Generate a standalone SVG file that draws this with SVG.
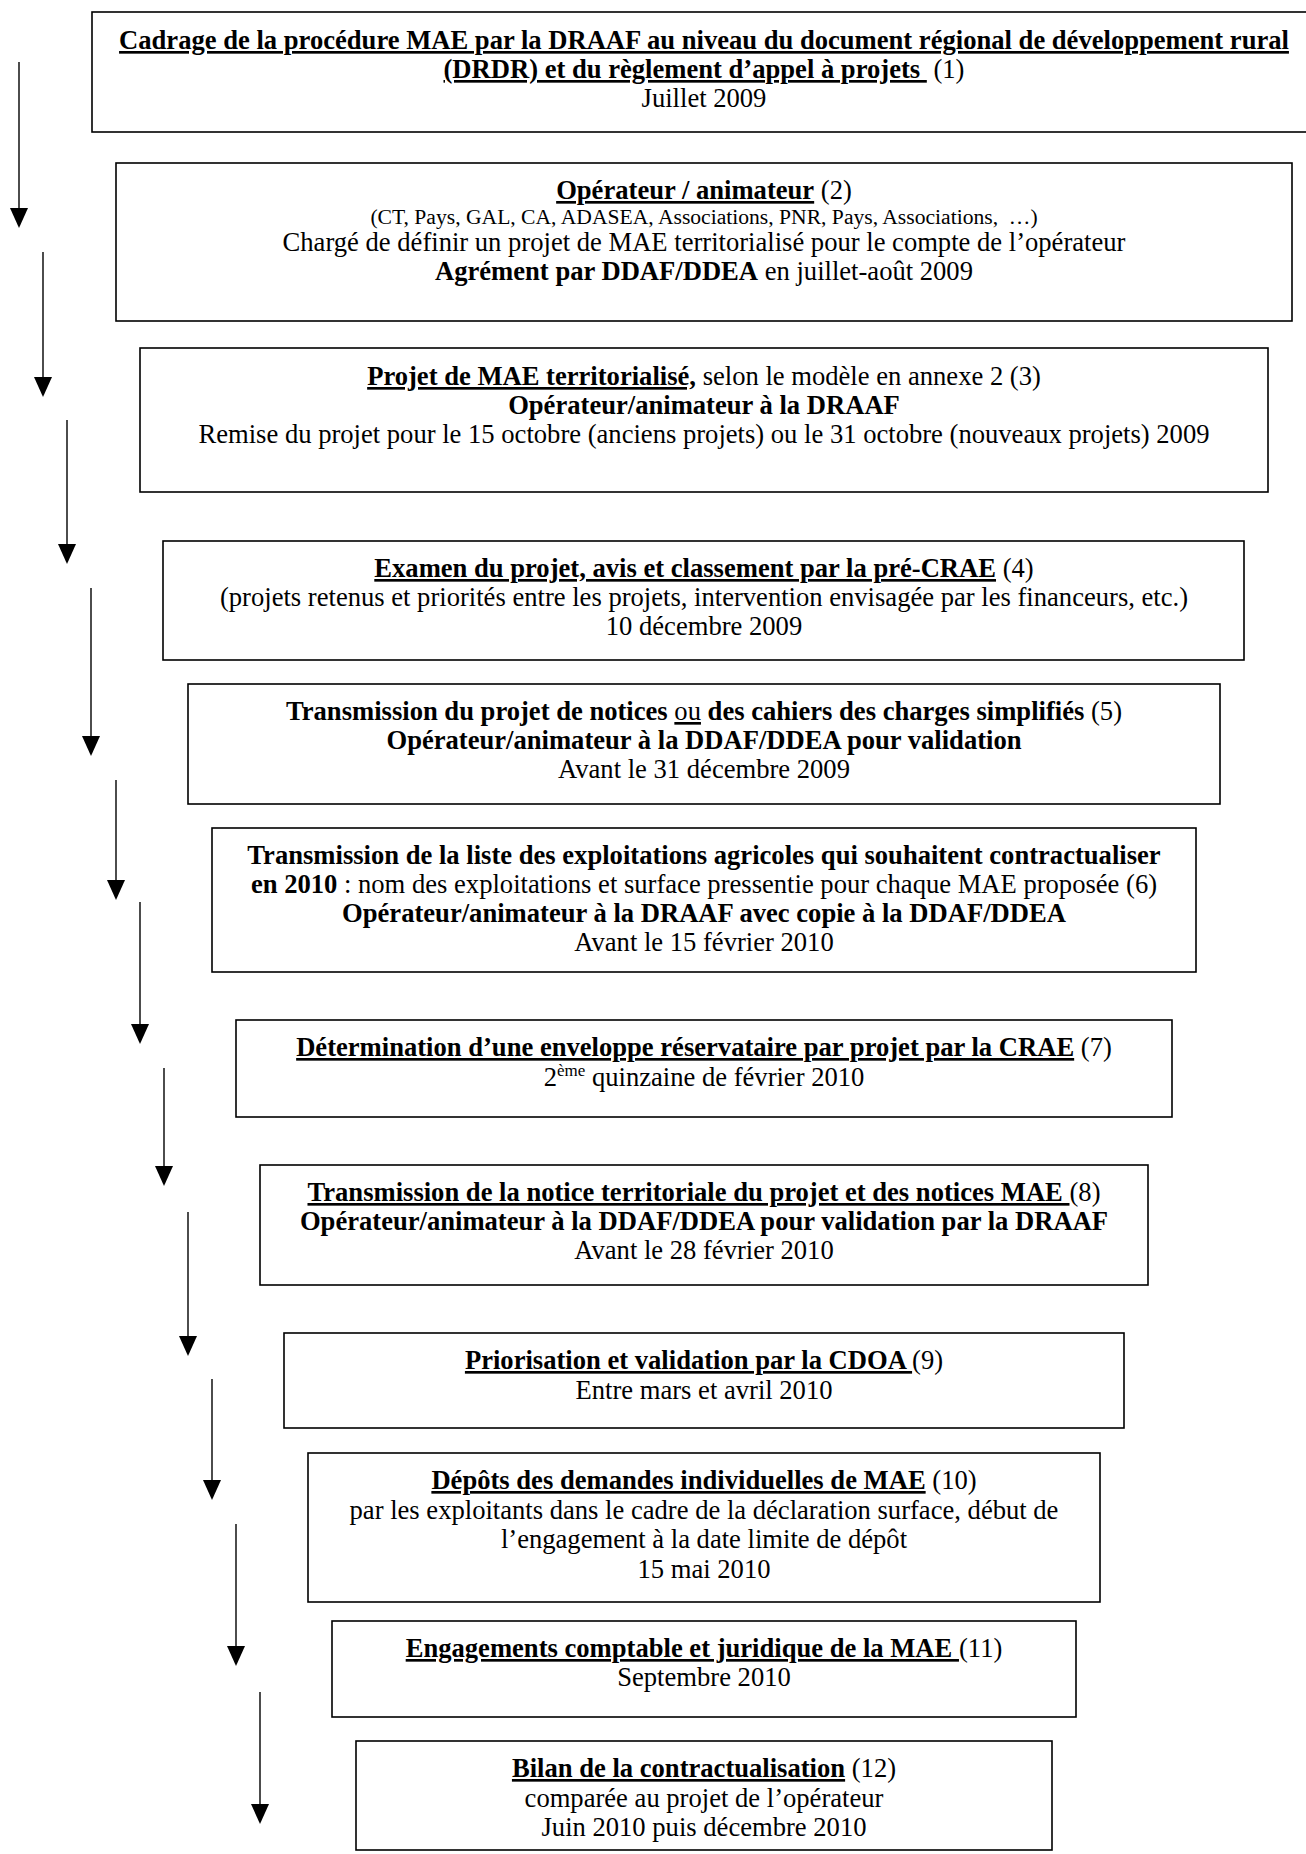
<svg xmlns="http://www.w3.org/2000/svg" width="1306" height="1854" viewBox="0 0 1306 1854">
<defs>
<style>
rect.box{fill:#fff;stroke:#000;stroke-width:1.6}
line.arr{stroke:#000;stroke-width:1.4}
path.head{fill:#000}
text{font-family:"Liberation Serif","Times New Roman",serif;font-size:26.6px;fill:#000;text-anchor:middle}
.b{font-weight:bold}
.u{text-decoration:underline}
.s{font-size:21.6px}
</style>
</defs>
<rect width="1306" height="1854" fill="#fff"/>
<g id="connectors">
<line class="arr" x1="19" y1="62" x2="19" y2="208"/>
<path class="head" d="M10,208 L28,208 L19,228 Z"/>
<line class="arr" x1="43" y1="252" x2="43" y2="377"/>
<path class="head" d="M34,377 L52,377 L43,397 Z"/>
<line class="arr" x1="67" y1="420" x2="67" y2="544"/>
<path class="head" d="M58,544 L76,544 L67,564 Z"/>
<line class="arr" x1="91" y1="588" x2="91" y2="736"/>
<path class="head" d="M82,736 L100,736 L91,756 Z"/>
<line class="arr" x1="116" y1="780" x2="116" y2="880"/>
<path class="head" d="M107,880 L125,880 L116,900 Z"/>
<line class="arr" x1="140" y1="902" x2="140" y2="1024"/>
<path class="head" d="M131,1024 L149,1024 L140,1044 Z"/>
<line class="arr" x1="164" y1="1068" x2="164" y2="1166"/>
<path class="head" d="M155,1166 L173,1166 L164,1186 Z"/>
<line class="arr" x1="188" y1="1212" x2="188" y2="1336"/>
<path class="head" d="M179,1336 L197,1336 L188,1356 Z"/>
<line class="arr" x1="212" y1="1379" x2="212" y2="1480"/>
<path class="head" d="M203,1480 L221,1480 L212,1500 Z"/>
<line class="arr" x1="236" y1="1524" x2="236" y2="1646"/>
<path class="head" d="M227,1646 L245,1646 L236,1666 Z"/>
<line class="arr" x1="260" y1="1692" x2="260" y2="1804"/>
<path class="head" d="M251,1804 L269,1804 L260,1824 Z"/>
</g>
<g id="n1">
<rect class="box" x="92" y="12" width="1224" height="120"/>
<text x="704" y="49"><tspan class="b u">Cadrage de la procédure MAE par la DRAAF au niveau du document régional de développement rural</tspan></text>
<text x="704" y="78" xml:space="preserve"><tspan class="b u">(DRDR) et du règlement d’appel à projets </tspan> (1)</text>
<text x="704" y="107">Juillet 2009</text>
</g>
<g id="n2">
<rect class="box" x="116" y="163" width="1176" height="158"/>
<text x="704" y="199"><tspan class="b u">Opérateur / animateur</tspan> (2)</text>
<text class="s" x="704" y="224" xml:space="preserve">(CT, Pays, GAL, CA, ADASEA, Associations, PNR, Pays, Associations,  …)</text>
<text x="704" y="251">Chargé de définir un projet de MAE territorialisé pour le compte de l’opérateur</text>
<text x="704" y="280"><tspan class="b">Agrément par DDAF/DDEA</tspan> en juillet-août 2009</text>
</g>
<g id="n3">
<rect class="box" x="140" y="348" width="1128" height="144"/>
<text x="704" y="385"><tspan class="b u">Projet de MAE territorialisé,</tspan> selon le modèle en annexe 2 (3)</text>
<text class="b" x="704" y="414">Opérateur/animateur à la DRAAF</text>
<text x="704" y="443">Remise du projet pour le 15 octobre (anciens projets) ou le 31 octobre (nouveaux projets) 2009</text>
</g>
<g id="n4">
<rect class="box" x="163" y="541" width="1081" height="119"/>
<text x="704" y="577"><tspan class="b u">Examen du projet, avis et classement par la pré-CRAE</tspan> (4)</text>
<text x="704" y="606">(projets retenus et priorités entre les projets, intervention envisagée par les financeurs, etc.)</text>
<text x="704" y="635">10 décembre 2009</text>
</g>
<g id="n5">
<rect class="box" x="188" y="684" width="1032" height="120"/>
<text x="704" y="720"><tspan class="b">Transmission du projet de notices </tspan><tspan class="u">ou</tspan><tspan class="b"> des cahiers des charges simplifiés</tspan> (5)</text>
<text class="b" x="704" y="749">Opérateur/animateur à la DDAF/DDEA pour validation</text>
<text x="704" y="778">Avant le 31 décembre 2009</text>
</g>
<g id="n6">
<rect class="box" x="212" y="828" width="984" height="144"/>
<text class="b" x="704" y="864">Transmission de la liste des exploitations agricoles qui souhaitent contractualiser</text>
<text x="704" y="893"><tspan class="b">en 2010</tspan> : nom des exploitations et surface pressentie pour chaque MAE proposée (6)</text>
<text class="b" x="704" y="922">Opérateur/animateur à la DRAAF avec copie à la DDAF/DDEA</text>
<text x="704" y="951">Avant le 15 février 2010</text>
</g>
<g id="n7">
<rect class="box" x="236" y="1020" width="936" height="97"/>
<text x="704" y="1056"><tspan class="b u">Détermination d’une enveloppe réservataire par projet par la CRAE</tspan> (7)</text>
<text x="704" y="1086">2<tspan font-size="17" dy="-10">ème</tspan><tspan dy="10"> quinzaine de février 2010</tspan></text>
</g>
<g id="n8">
<rect class="box" x="260" y="1165" width="888" height="120"/>
<text x="704" y="1201"><tspan class="b u">Transmission de la notice territoriale du projet et des notices MAE </tspan>(8)</text>
<text class="b" x="704" y="1230">Opérateur/animateur à la DDAF/DDEA pour validation par la DRAAF</text>
<text x="704" y="1259">Avant le 28 février 2010</text>
</g>
<g id="n9">
<rect class="box" x="284" y="1333" width="840" height="95"/>
<text x="704" y="1369"><tspan class="b u">Priorisation et validation par la CDOA </tspan>(9)</text>
<text x="704" y="1399">Entre mars et avril 2010</text>
</g>
<g id="n10">
<rect class="box" x="308" y="1453" width="792" height="149"/>
<text x="704" y="1489"><tspan class="b u">Dépôts des demandes individuelles de MAE</tspan> (10)</text>
<text x="704" y="1519">par les exploitants dans le cadre de la déclaration surface, début de</text>
<text x="704" y="1548">l’engagement à la date limite de dépôt</text>
<text x="704" y="1578">15 mai 2010</text>
</g>
<g id="n11">
<rect class="box" x="332" y="1621" width="744" height="96"/>
<text x="704" y="1657"><tspan class="b u">Engagements comptable et juridique de la MAE </tspan>(11)</text>
<text x="704" y="1686">Septembre 2010</text>
</g>
<g id="n12">
<rect class="box" x="356" y="1741" width="696" height="109"/>
<text x="704" y="1777"><tspan class="b u">Bilan de la contractualisation</tspan> (12)</text>
<text x="704" y="1807">comparée au projet de l’opérateur</text>
<text x="704" y="1836">Juin 2010 puis décembre 2010</text>
</g>
</svg>
